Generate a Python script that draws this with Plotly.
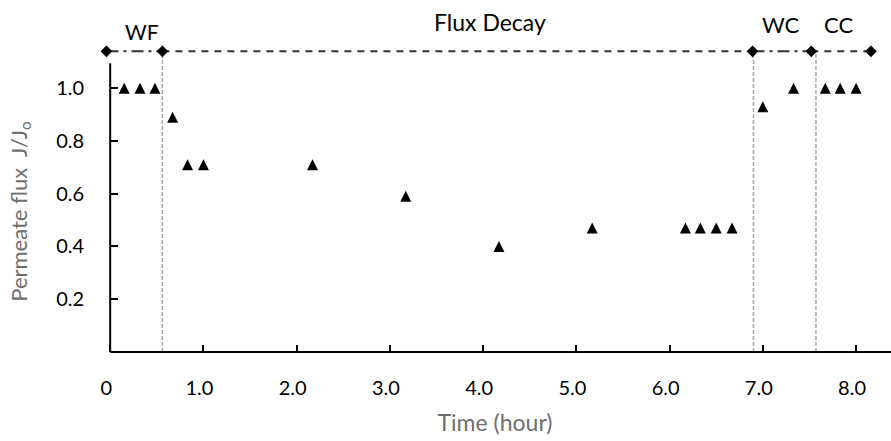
import plotly.graph_objects as go

# ---------------- data ----------------
time_h = [0.15, 0.32, 0.48, 0.67, 0.83, 1.0, 2.17, 3.17, 4.17, 5.17,
          6.17, 6.33, 6.5, 6.67, 7.0, 7.33, 7.67, 7.83, 8.0]
flux = [1.0, 1.0, 1.0, 0.89, 0.71, 0.71, 0.71, 0.59, 0.40, 0.47,
        0.47, 0.47, 0.47, 0.47, 0.93, 1.0, 1.0, 1.0, 1.0]

phase_names = ["WF", "Flux Decay", "WC", "CC"]
phase_marker_x = [-0.04, 0.56, 6.89, 7.52, 8.16]
phase_marker_level = 1.14
phase_divider_x = [0.56, 6.90, 7.57]

x_tick_vals = [0, 1, 2, 3, 4, 5, 6, 7, 8]
x_tick_text = ["0", "1.0", "2.0", "3.0", "4.0", "5.0", "6.0", "7.0", "8.0"]
y_tick_vals = [0.2, 0.4, 0.6, 0.8, 1.0]
y_tick_text = ["0.2", "0.4", "0.6", "0.8", "1.0"]

# ---------------- styles ----------------
FONT = "Lato"
TITLE_GRAY = "#6e6e6e"
X_RANGE = [-0.12, 8.375]
Y_RANGE = [0, 1.16]
label_pos = {"WF": (0.34, 1.047, 21), "Flux Decay": (4.07, 1.078, 23),
             "WC": (7.20, 1.069, 22), "CC": (7.81, 1.069, 22)}
segment_dash = ["12px,5px,3px,5px", "7px,6px", "12px,5px,3px,5px", "7px,6px"]
y_axis_pos = (0 - X_RANGE[0]) / (X_RANGE[1] - X_RANGE[0])

fig = go.Figure()

# vertical phase dividers
dx, dy = [], []
for d in phase_divider_x:
    dx += [d, d, None]
    dy += [0, phase_marker_level, None]
fig.add_trace(go.Scatter(x=dx, y=dy, mode="lines",
                         line=dict(color="#a9a9a9", width=1.5, dash="4px,2px"),
                         hoverinfo="skip", showlegend=False))

# top phase line segments
for i in range(len(phase_marker_x) - 1):
    fig.add_trace(go.Scatter(
        x=[phase_marker_x[i], phase_marker_x[i + 1]],
        y=[phase_marker_level, phase_marker_level],
        mode="lines", line=dict(color="#333333", width=2, dash=segment_dash[i]),
        hoverinfo="skip", showlegend=False))

# diamonds
fig.add_trace(go.Scatter(
    x=phase_marker_x, y=[phase_marker_level] * len(phase_marker_x),
    mode="markers", marker=dict(symbol="diamond", size=9, color="black"),
    cliponaxis=False, showlegend=False))

# flux data (triangles)
fig.add_trace(go.Scatter(
    x=time_h, y=flux, mode="markers",
    marker=dict(symbol="arrow-down", angle=180, standoff=5.5, size=11,
                color="black", line=dict(width=0)),
    cliponaxis=False, showlegend=False))

# phase labels
for name in phase_names:
    lx, ly, fs = label_pos[name]
    fig.add_annotation(x=lx, y=ly, xref="x", yref="paper", text=name,
                       showarrow=False, xanchor="center", yanchor="middle",
                       font=dict(family=FONT, size=fs, color="black"))

# y-axis title
fig.add_annotation(x=-0.1, y=0.461, xref="paper", yref="paper",
                   text="Permeate flux\u00a0 J/J<sub>o</sub>", textangle=-90,
                   showarrow=False, xanchor="center", yanchor="middle",
                   font=dict(family=FONT, size=22, color=TITLE_GRAY))

# axis lines (y-axis stops below the phase line; x-axis starts at the y-axis)
fig.add_shape(type="line", xref="x", yref="y", x0=0, x1=0, y0=0, y1=1.095,
              line=dict(color="black", width=2))
fig.add_shape(type="line", xref="x", yref="paper", x0=0, x1=X_RANGE[1], y0=0, y1=0,
              line=dict(color="black", width=2))

fig.update_layout(
    width=891, height=441,
    margin=dict(l=99, r=0, t=46, b=89),
    paper_bgcolor="white", plot_bgcolor="white",
    showlegend=False,
    font=dict(family=FONT, color="black"),
    xaxis=dict(range=X_RANGE, tickmode="array", tickvals=x_tick_vals,
               ticktext=x_tick_text, ticks="inside", ticklen=7, tickwidth=1.5,
               tickcolor="black", showline=False, showgrid=False, zeroline=False,
               tickfont=dict(family=FONT, size=20, color="black"),
               ticklabelstandoff=22, ticklabelshift=-4,
               title=dict(text="Time (hour)", standoff=16,
                          font=dict(family=FONT, size=23, color=TITLE_GRAY))),
    yaxis=dict(range=Y_RANGE, tickmode="array", tickvals=y_tick_vals,
               ticktext=y_tick_text, ticks="inside", ticklen=7, tickwidth=1.5,
               tickcolor="black", showline=False, showgrid=False, zeroline=False,
               anchor="free", position=y_axis_pos,
               tickfont=dict(family=FONT, size=20, color="black"),
               ticklabelstandoff=26),
)

fig.write_html("out.html")
